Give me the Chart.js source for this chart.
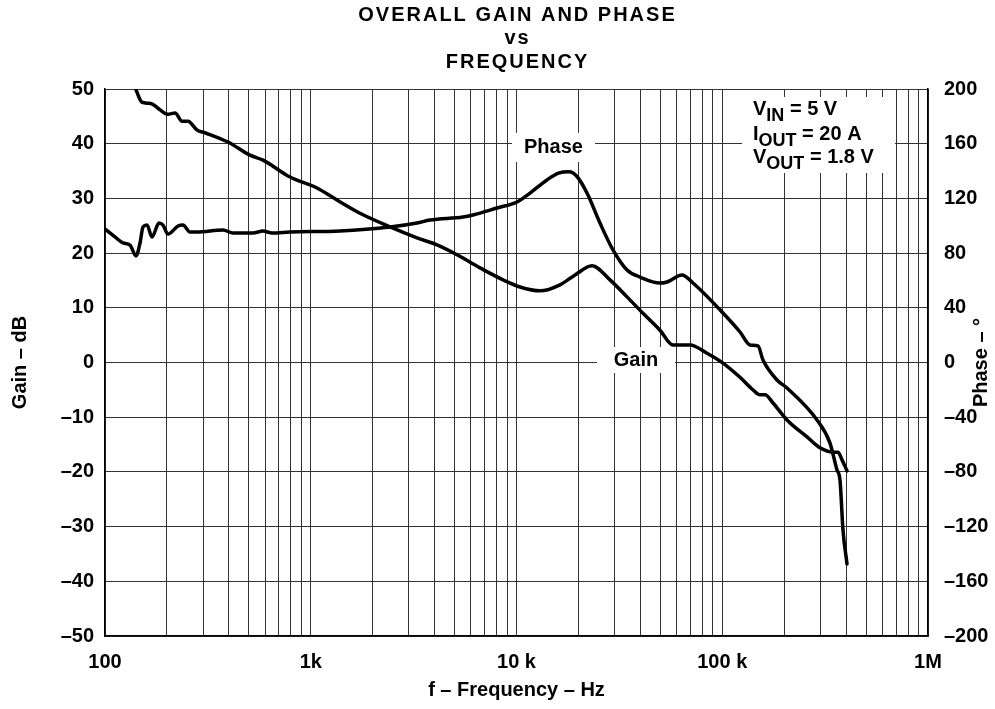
<!DOCTYPE html>
<html>
<head>
<meta charset="utf-8">
<script src="https://cdn.jsdelivr.net/npm/chart.js@4.4.1/dist/chart.umd.min.js"></script>
<style>
html, body { margin: 0; padding: 0; background: #fff; }
#wrap { width: 995px; height: 709px; position: relative; }
</style>
</head>
<body>
<div id="wrap"><canvas id="bodePlot"></canvas></div>
<script>
// gain curve: frequency in Hz, gain in dB
const gainFreq = [141, 151, 162, 169, 185, 202, 219, 237, 253, 280,
  306, 396, 507, 586, 793, 1072, 1342, 1795, 2428, 3284,
  4108, 5139, 6645, 8601, 10400, 13010, 16270, 19250, 23280, 28470,
  34440, 41190, 49820, 57620, 69700, 84300, 100800, 122000, 141100, 152600,
  161400, 176500, 206400, 258200, 298700, 345400, 365300, 382000, 404000];
const gainDb = [50, 47.6, 47.4, 47.3, 46.2, 45.4, 45.6, 44.1, 44.1, 42.5,
  42.0, 40.3, 37.9, 37.0, 33.9, 31.9, 29.7, 27.0, 24.8, 22.8,
  21.5, 19.7, 17.3, 15.1, 13.8, 13.1, 14.2, 16.0, 17.7, 15.1,
  12.0, 9.0, 5.9, 3.2, 3.2, 1.7, -0.1, -2.7, -5.0, -5.9,
  -5.9, -7.4, -10.5, -13.6, -15.6, -16.4, -16.4, -17.8, -19.8];

// phase curve: frequency in Hz, phase in degrees
const phaseFreq = [100, 111.8, 122.3, 132.3, 141.5, 148, 153, 160, 169.2, 183,
  191.4, 202.4, 226.4, 239.4, 258.9, 280, 374.6, 418.9, 524.1, 586.1,
  648.1, 792.7, 1387, 2428, 3284, 3797, 5495, 6146, 8040, 10056,
  11630, 14070, 16000, 18000, 19680, 22010, 25450, 29440, 34440, 39830,
  49820, 53880, 63740, 72080, 100800, 122000, 136400, 149200, 157800, 184500,
  206400, 288800, 333900, 361100, 373400, 386200, 404000];
const phaseDeg = [97.6, 91.8, 87.4, 85.9, 77.9, 87.4, 99.1, 100.5, 91.8, 102.0,
  100.5, 93.9, 99.8, 100.5, 95.4, 95.4, 96.9, 94.7, 94.7, 96.2,
  94.7, 95.4, 96.2, 99.1, 102.0, 104.2, 106.4, 107.9, 113.0, 117.4,
  123.9, 133.5, 138.5, 139.5, 136.0, 123.9, 102.0, 82.3, 67.6, 62.5,
  58.1, 58.9, 64.0, 58.1, 36.2, 22.3, 12.8, 12.1, 1.8, -12.8,
  -18.6, -42.0, -58.9, -78.6, -85.9, -122.5, -147.3];

const decadeTicks = [100, 1000, 10000, 100000, 1000000];
const decadeLabels = ['100', '1k', '10 k', '100 k', '1M'];
const titleLines = ['OVERALL GAIN AND PHASE', 'vs', 'FREQUENCY'];

const FONT = '"Liberation Sans", Arial, Helvetica, sans-serif';
Chart.defaults.font.family = FONT;
Chart.defaults.font.size = 20;
Chart.defaults.font.weight = 'bold';
Chart.defaults.color = '#000';

// grid lines at 1..9 of each decade
const gridFreqs = [];
for (let d = 100; d < 1000000; d *= 10) {
  for (let k = 1; k < 10; k++) gridFreqs.push(k * d);
}
gridFreqs.push(1000000);

const dash = v => String(v).replace('-', '\u2013');

function subText(ctx, parts, x, y) {
  // parts: [text, isSub]
  parts.forEach(([t, sub]) => {
    ctx.font = sub ? 'bold 18px ' + FONT : 'bold 20px ' + FONT;
    ctx.fillText(t, x, sub ? y + 6 : y);
    x += ctx.measureText(t).width;
  });
}

const notes = {
  id: 'notes',
  beforeDatasetsDraw(chart) {
    const {ctx, scales: {x, y}} = chart;
    const box = (f0, g0, f1, g1) => {
      const px0 = x.getPixelForValue(f0), px1 = x.getPixelForValue(f1);
      const py0 = y.getPixelForValue(g0), py1 = y.getPixelForValue(g1);
      ctx.fillStyle = '#fff';
      ctx.fillRect(px0, py0, px1 - px0, py1 - py0);
      return [(px0 + px1) / 2, (py0 + py1) / 2];
    };
    ctx.save();
    ctx.textBaseline = 'middle';
    ctx.textAlign = 'center';

    let c = box(9509, 42.0, 24070, 36.65);
    ctx.fillStyle = '#000';
    ctx.font = 'bold 20px ' + FONT;
    ctx.fillText('Phase', c[0], c[1]);

    c = box(24620, 2.83, 58940, -1.92);
    ctx.fillStyle = '#000';
    ctx.fillText('Gain', c[0], c[1]);

    box(124800, 48.54, 691000, 34.64);
    ctx.fillStyle = '#000';
    ctx.textAlign = 'left';
    ctx.textBaseline = 'alphabetic';
    const tx = x.getPixelForValue(141100);
    subText(ctx, [['V', false], ['IN', true], [' = 5 V', false]], tx, y.getPixelForValue(45.25));
    subText(ctx, [['I', false], ['OUT', true], [' = 20 A', false]], tx, y.getPixelForValue(40.7));
    subText(ctx, [['V', false], ['OUT', true], [' = 1.8 V', false]], tx, y.getPixelForValue(36.5));
    ctx.restore();
  },
  afterDraw(chart) {
    const {ctx, chartArea} = chart;
    const cx = (chartArea.left + chartArea.right) / 2;
    ctx.save();
    ctx.fillStyle = '#000';
    ctx.textAlign = 'center';
    ctx.textBaseline = 'alphabetic';
    ctx.font = 'bold 20px ' + FONT;
    ctx.letterSpacing = '2px';
    [21, 44, 68].forEach((by, i) => ctx.fillText(titleLines[i], cx + 1, by));
    ctx.letterSpacing = '0px';
    // right axis title, reading upward
    ctx.translate(981, (chartArea.top + chartArea.bottom) / 2);
    ctx.rotate(-Math.PI / 2);
    ctx.textBaseline = 'middle';
    ctx.fillText('Phase \u2013 \u00B0', 0, 0);
    ctx.restore();
  }
};

const ctx = document.getElementById('bodePlot').getContext('2d');

new Chart(ctx, {
  type: 'line',
  data: {
    datasets: [
      {
        label: 'Gain',
        data: gainFreq.map((f, i) => ({x: f, y: gainDb[i]})),
        yAxisID: 'y',
        borderColor: '#000',
        borderWidth: 3.5,
        pointRadius: 0,
        cubicInterpolationMode: 'monotone',
        borderCapStyle: 'round',
        borderJoinStyle: 'round'
      },
      {
        label: 'Phase',
        data: phaseFreq.map((f, i) => ({x: f, y: phaseDeg[i]})),
        yAxisID: 'y1',
        borderColor: '#000',
        borderWidth: 3.5,
        pointRadius: 0,
        cubicInterpolationMode: 'monotone',
        borderCapStyle: 'round',
        borderJoinStyle: 'round'
      }
    ]
  },
  options: {
    responsive: true,
    maintainAspectRatio: false,
    animation: false,
    layout: { padding: { top: 89, left: 0, right: 0, bottom: 0 } },
    plugins: { legend: { display: false }, tooltip: { enabled: false } },
    scales: {
      x: {
        type: 'logarithmic',
        min: 100,
        max: 1000000,
        afterBuildTicks: s => { s.ticks = gridFreqs.map(v => ({value: v})); },
        afterFit: s => { s.height = 73; },
        ticks: {
          autoSkip: false,
          maxRotation: 0,
          padding: 14,
          callback: v => {
            const i = decadeTicks.indexOf(v);
            return i < 0 ? '' : decadeLabels[i];
          }
        },
        grid: { color: '#333', lineWidth: 1, drawTicks: false },
        border: { color: '#000', width: 1.5 },
        title: { display: true, text: 'f \u2013 Frequency \u2013 Hz', padding: { top: 0, bottom: 7 } }
      },
      y: {
        position: 'left',
        min: -50,
        max: 50,
        afterFit: s => { s.width = 105; },
        ticks: { stepSize: 10, padding: 11, callback: dash },
        grid: { color: '#333', lineWidth: 1, drawTicks: false },
        border: { color: '#000', width: 1.5 },
        title: { display: true, text: 'Gain \u2013 dB', padding: { top: 8, bottom: 0 } }
      },
      y1: {
        position: 'right',
        min: -200,
        max: 200,
        afterFit: s => { s.width = 67; },
        ticks: { stepSize: 40, padding: 16, callback: dash },
        grid: { display: false, drawTicks: false },
        border: { color: '#000', width: 1.5 }
      }
    }
  },
  plugins: [notes]
});
</script>
</body>
</html>
